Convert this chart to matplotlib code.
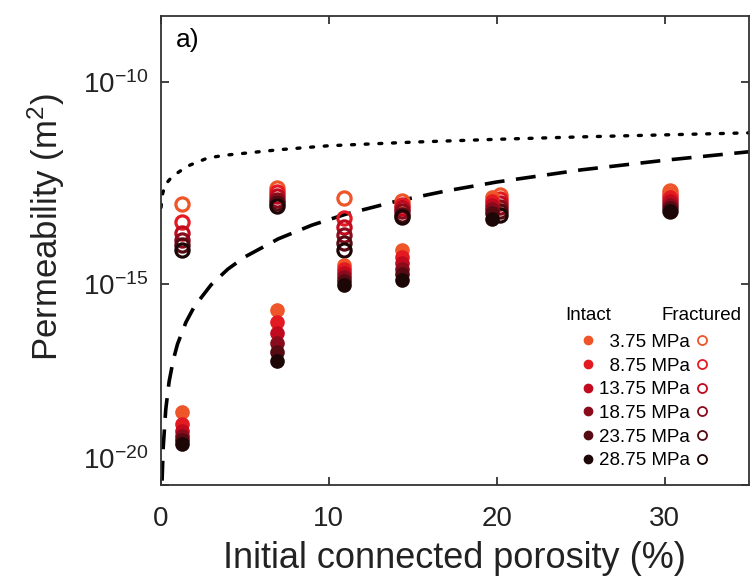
import matplotlib
matplotlib.use("Agg")
import matplotlib.pyplot as plt
from matplotlib.lines import Line2D
from matplotlib.transforms import ScaledTranslation
import numpy as np

plt.rcParams['font.family'] = ['Liberation Sans', 'DejaVu Sans']
plt.rcParams['mathtext.fontset'] = 'custom'
plt.rcParams['mathtext.rm'] = 'Liberation Sans'
plt.rcParams['mathtext.it'] = 'Liberation Sans:italic'

# confining pressures and their colours (light -> dark)
pressures = ['3.75 MPa', '8.75 MPa', '13.75 MPa', '18.75 MPa', '23.75 MPa', '28.75 MPa']
colors = ['#ee5528', '#e41a22', '#c20a1e', '#8a0c1c', '#560a12', '#1c0606']

# log10 permeability, one row per sample, one column per pressure
phi_intact = [1.25, 6.9, 10.9, 14.35, 19.7, 30.3]
logk_intact = [
    [-18.18, -18.48, -18.66, -18.78, -18.88, -18.96],
    [-15.65, -15.94, -16.22, -16.47, -16.69, -16.91],
    [-14.53, -14.63, -14.73, -14.83, -14.93, -15.02],
    [-14.16, -14.32, -14.48, -14.62, -14.76, -14.90],
    [-12.85, -12.95, -13.05, -13.15, -13.25, -13.38],
    [-12.75, -12.85, -12.95, -13.05, -13.12, -13.20],
]
phi_frac = [1.25, 6.9, 10.9, 14.35, 20.2, 30.3]
logk_frac = [
    [-13.01, -13.45, -13.73, -13.91, -14.03, -14.16],
    [-12.62, -12.72, -12.82, -12.92, -12.99, -13.06],
    [-12.87, -13.36, -13.59, -13.78, -13.98, -14.16],
    [-12.95, -13.05, -13.12, -13.20, -13.28, -13.35],
    [-12.80, -12.90, -13.00, -13.10, -13.20, -13.30],
    [-12.70, -12.80, -12.90, -13.00, -13.10, -13.18],
]

# model curves
phi_dash = [0.08, 0.15, 0.3, 0.5, 0.75, 1.0, 1.5, 2.0, 3.0, 4.0, 5.0, 7.0, 9.0, 11, 14, 17, 20, 25, 30, 35]
logk_dash = [-19.88, -19.04, -18.11, -17.42, -16.88, -16.49, -15.95, -15.56, -15.02, -14.63,
             -14.33, -13.88, -13.54, -13.27, -12.95, -12.69, -12.47, -12.17, -11.93, -11.72]
phi_dot = [0.02, 0.05, 0.12, 0.26, 0.67, 1.15, 1.74, 2.82, 3.95, 5.14, 7.0, 10, 15, 20, 25, 30, 35]
logk_dot = [-13.1, -12.95, -12.75, -12.54, -12.34, -12.20, -12.05, -11.87, -11.80, -11.75,
            -11.67, -11.57, -11.48, -11.41, -11.35, -11.30, -11.25]

fig = plt.figure(figsize=(7.56, 5.81), dpi=100)
ax = fig.add_axes([0.2126, 0.1644, 0.7778, 0.8081])

ax.plot(phi_dot, 10 ** np.array(logk_dot), color='black', ls=(0, (0.9, 3.2)), lw=2.4,
        dash_capstyle='round')
ax.plot(phi_dash, 10 ** np.array(logk_dash), color='black', ls=(0, (5.5, 3.2)), lw=2.6)

ki = np.array(logk_intact)
kf = np.array(logk_frac)
for j, c in enumerate(colors):
    ax.plot(phi_frac, 10 ** kf[:, j], ls='none', marker='o', ms=9.5, mfc='none', mec=c, mew=2.3)
for j, c in enumerate(colors):
    ax.plot(phi_intact, 10 ** ki[:, j], ls='none', marker='o', ms=9.5, mfc=c, mec=c)

ax.set_yscale('log')
ax.set_xlim(0, 35)
ax.set_ylim(1e-20, 10 ** -8.35)
ax.set_xticks([0, 10, 20, 30])
ax.set_yticks([1e-20, 1e-15, 1e-10])
ax.set_yticklabels([r'$10^{-20}$', r'$10^{-15}$', r'$10^{-10}$'])
ax.minorticks_off()
ax.tick_params(direction='in', length=6, width=1.2, top=True, right=True,
               labelsize=20, colors='#222222')
ax.tick_params(axis='x', pad=15)
ax.tick_params(axis='y', pad=9)
for s in ax.spines.values():
    s.set_linewidth(1.3)
    s.set_color('#333333')

# the bottom y label sits a little higher in the original
lab = ax.get_yticklabels()[0]
lab.set_transform(lab.get_transform() + ScaledTranslation(0, 0.27, fig.dpi_scale_trans))

ax.set_xlabel('Initial connected porosity (%)', fontsize=26, color='#222222', labelpad=6)
ax.set_ylabel(r'Permeability (m$^2$)', fontsize=25, color='#222222')
ax.yaxis.set_label_coords(-0.16, 0.55)
ax.text(0.025, 0.975, 'a)', transform=ax.transAxes, fontsize=19, va='top', ha='left')

# legend: filled = intact, open = fractured
h_int = [Line2D([], [], ls='none', marker='o', ms=6, mfc=c, mec=c) for c in colors]
h_frac = [Line2D([], [], ls='none', marker='o', ms=6.5, mfc='none', mec=c, mew=1.3) for c in colors]
lab_int = ['  ' + p if p.startswith(('3', '8')) else p for p in pressures]
leg1 = ax.legend(h_int, lab_int, loc='upper left', bbox_to_anchor=(0.714, 0.323), frameon=False,
                 fontsize=13.5, handlelength=0.8, handletextpad=0.19, labelspacing=0.35,
                 borderpad=0, borderaxespad=0)
ax.add_artist(leg1)
ax.legend(h_frac, [''] * 6, loc='upper left', bbox_to_anchor=(0.908, 0.323), frameon=False,
          fontsize=13.5, handlelength=0.8, handletextpad=0, labelspacing=0.35,
          borderpad=0, borderaxespad=0)
ax.text(0.727, 0.363, 'Intact', transform=ax.transAxes, fontsize=13.5, ha='center', va='center')
ax.text(0.919, 0.363, 'Fractured', transform=ax.transAxes, fontsize=13.5, ha='center', va='center')

fig.savefig('out.png', dpi=100)
